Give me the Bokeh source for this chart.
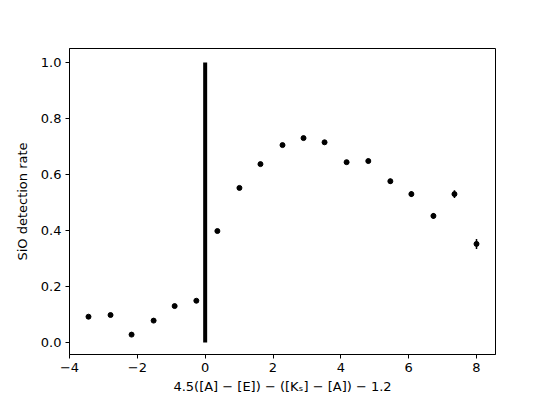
from bokeh.plotting import figure
from bokeh.models import FixedTicker, Range1d, ColumnDataSource, CustomJSTickFormatter
from bokeh.embed import file_html
from bokeh.resources import INLINE

# data
x_vals = [-3.44, -2.79, -2.17, -1.52, -0.90, -0.26, 0.36, 1.01, 1.63, 2.28,
          2.90, 3.52, 4.17, 4.81, 5.46, 6.08, 6.73, 7.35, 8.00]
rate = [0.092, 0.098, 0.028, 0.078, 0.130, 0.149, 0.398, 0.552, 0.637, 0.705,
        0.730, 0.715, 0.644, 0.648, 0.576, 0.530, 0.452, 0.530, 0.352]
rate_err = [0.006, 0.005, 0.004, 0.005, 0.005, 0.006, 0.006, 0.006, 0.006, 0.006,
            0.006, 0.007, 0.007, 0.008, 0.009, 0.010, 0.010, 0.014, 0.018]
vline_x = [0.0]
vline_y0 = [0.0]
vline_y1 = [1.0]
x_ticks = [-4, -2, 0, 2, 4, 6, 8]
y_ticks = [0.0, 0.2, 0.4, 0.6, 0.8, 1.0]

src = ColumnDataSource(dict(
    x=x_vals, y=rate,
    lo=[r - e for r, e in zip(rate, rate_err)],
    hi=[r + e for r, e in zip(rate, rate_err)],
))

p = figure(width=546, height=396, output_backend="svg", toolbar_location=None,
           x_range=Range1d(-4.0, 8.56), y_range=Range1d(-0.043, 1.05),
           min_border_left=69, min_border_right=51, min_border_top=48, min_border_bottom=41)

p.background_fill_color = "white"
p.border_fill_color = "white"
p.outline_line_color = "black"
p.outline_line_width = 1
p.xgrid.visible = False
p.ygrid.visible = False

p.segment(x0=vline_x, y0=vline_y0, x1=vline_x, y1=vline_y1, line_color="black", line_width=4)
p.segment(x0="x", y0="lo", x1="x", y1="hi", source=src, line_color="black", line_width=1.5)
p.scatter(x="x", y="y", source=src, size=5, fill_color="black", line_color="black")

p.xaxis.ticker = FixedTicker(ticks=x_ticks)
p.yaxis.ticker = FixedTicker(ticks=y_ticks)
p.yaxis.formatter = CustomJSTickFormatter(code="return tick.toFixed(1);")
p.xaxis.formatter = CustomJSTickFormatter(code="return tick < 0 ? '\u2212' + Math.abs(tick) : String(tick);")

for ax in (p.xaxis[0], p.yaxis[0]):
    ax.axis_line_color = "black"
    ax.major_tick_line_color = "black"
    ax.major_tick_out = 4
    ax.major_tick_in = 0
    ax.minor_tick_line_color = None
    ax.major_label_text_font = "DejaVu Sans"
    ax.major_label_text_font_size = "13px"
    ax.major_label_text_color = "black"
    ax.axis_label_text_font = "DejaVu Sans"
    ax.axis_label_text_font_size = "13px"
    ax.axis_label_text_font_style = "normal"
    ax.axis_label_text_color = "black"

p.xaxis.axis_label = "4.5([A] \u2212 [E]) \u2212 ([K\u209b] \u2212 [A]) \u2212 1.2"
p.yaxis.axis_label = "SiO detection rate"
p.xaxis.axis_label_standoff = 4
p.yaxis.axis_label_standoff = 8
p.xaxis.major_label_standoff = 4
p.yaxis.major_label_standoff = 4

open("out.html", "w").write(file_html(p, INLINE))
